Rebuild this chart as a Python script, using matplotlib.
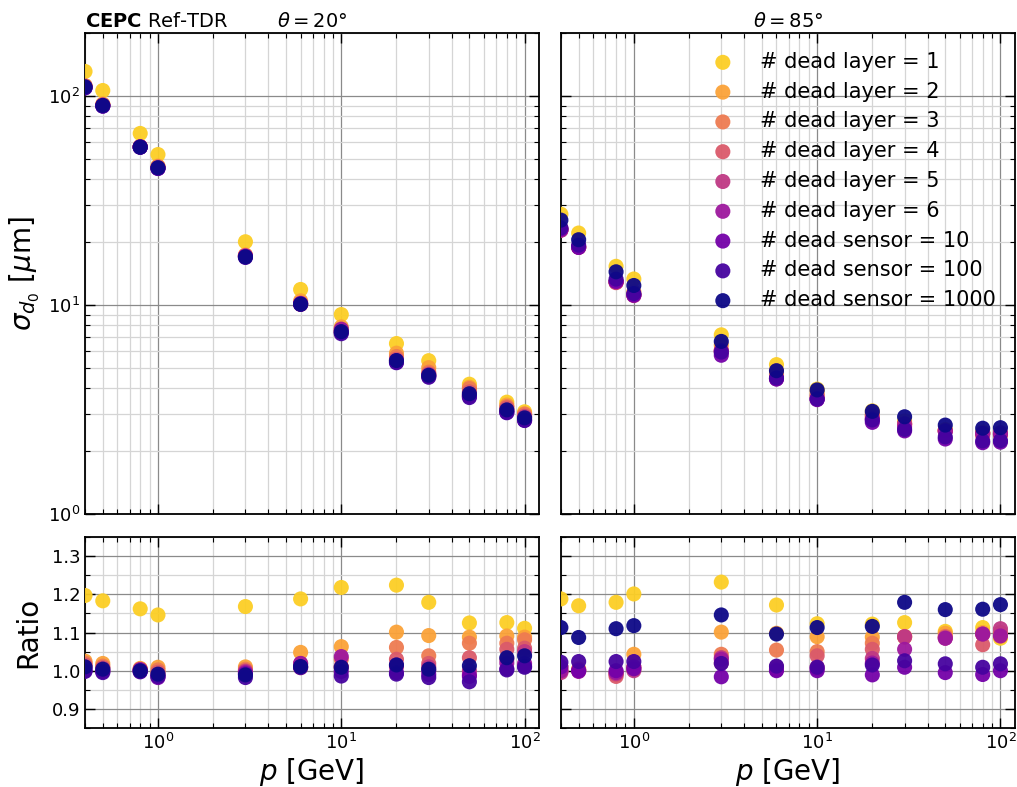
import numpy as np
import matplotlib
matplotlib.use("Agg")
import matplotlib.pyplot as plt

# momentum points [GeV]
p_vals = [0.4, 0.5, 0.8, 1, 3, 6, 10, 20, 30, 50, 80, 100]

labels = ["# dead layer = 1", "# dead layer = 2", "# dead layer = 3",
          "# dead layer = 4", "# dead layer = 5", "# dead layer = 6",
          "# dead sensor = 10", "# dead sensor = 100", "# dead sensor = 1000"]

# nominal resolution (no dead channels), used as ratio denominator [um]
base_20 = [109.5, 89.8, 57.0, 45.8, 17.2, 10.0, 7.4, 5.35, 4.6, 3.72, 3.05, 2.78]
base_85 = [22.9, 18.9, 13.0, 11.1, 5.85, 4.43, 3.53, 2.78, 2.48, 2.30, 2.22, 2.21]

# ratio to nominal, theta = 20 deg
ratio_20_layer1 = [1.197, 1.183, 1.162, 1.146, 1.168, 1.188, 1.218, 1.224, 1.179, 1.125, 1.126, 1.111]
ratio_20_layer2 = [1.025, 1.019, 1.006, 1.009, 1.010, 1.048, 1.063, 1.101, 1.092, 1.088, 1.091, 1.088]
ratio_20_layer3 = [1.020, 1.012, 1.004, 1.002, 1.004, 1.008, 1.030, 1.061, 1.039, 1.072, 1.072, 1.081]
ratio_20_layer4 = [1.015, 1.008, 1.002, 0.996, 1.000, 1.010, 1.010, 1.030, 1.019, 1.034, 1.056, 1.059]
ratio_20_layer5 = [1.010, 1.005, 1.000, 0.990, 0.998, 1.019, 1.010, 1.010, 1.010, 1.000, 1.030, 1.050]
ratio_20_layer6 = [1.005, 1.000, 1.003, 0.985, 0.995, 1.019, 1.037, 1.015, 1.000, 0.990, 1.020, 1.019]
ratio_20_sens10 = [1.000, 0.998, 0.998, 0.982, 0.992, 1.010, 0.998, 0.995, 0.990, 0.985, 1.005, 1.012]
ratio_20_sens100 = [0.998, 0.995, 0.997, 0.985, 0.982, 1.008, 0.986, 0.991, 0.982, 0.971, 1.002, 1.009]
ratio_20_sens1000 = [1.010, 1.004, 1.000, 0.991, 0.989, 1.011, 1.009, 1.015, 1.004, 1.013, 1.034, 1.039]

# ratio to nominal, theta = 85 deg
ratio_85_layer1 = [1.188, 1.170, 1.179, 1.201, 1.232, 1.172, 1.123, 1.122, 1.126, 1.103, 1.113, 1.085]
ratio_85_layer2 = [1.010, 1.005, 0.995, 1.043, 1.101, 1.098, 1.089, 1.088, 1.090, 1.098, 1.100, 1.090]
ratio_85_layer3 = [1.002, 1.000, 0.990, 1.010, 1.043, 1.054, 1.050, 1.072, 1.088, 1.090, 1.095, 1.095]
ratio_85_layer4 = [0.998, 1.000, 0.985, 1.005, 1.020, 1.010, 1.039, 1.056, 1.089, 1.088, 1.068, 1.100]
ratio_85_layer5 = [0.995, 1.002, 0.992, 1.000, 1.034, 1.005, 1.010, 1.032, 1.089, 1.085, 1.096, 1.110]
ratio_85_layer6 = [1.000, 0.998, 0.995, 1.010, 1.030, 1.002, 1.005, 1.020, 1.056, 1.085, 1.096, 1.091]
ratio_85_sens10 = [1.010, 1.000, 1.000, 1.005, 0.984, 1.000, 1.000, 0.989, 1.009, 0.995, 0.990, 1.000]
ratio_85_sens100 = [1.022, 1.024, 1.024, 1.024, 1.019, 1.012, 1.009, 1.015, 1.026, 1.018, 1.009, 1.018]
ratio_85_sens1000 = [1.113, 1.087, 1.110, 1.118, 1.146, 1.096, 1.113, 1.116, 1.179, 1.160, 1.161, 1.173]

ratios_20 = [ratio_20_layer1, ratio_20_layer2, ratio_20_layer3, ratio_20_layer4,
             ratio_20_layer5, ratio_20_layer6, ratio_20_sens10, ratio_20_sens100,
             ratio_20_sens1000]
ratios_85 = [ratio_85_layer1, ratio_85_layer2, ratio_85_layer3, ratio_85_layer4,
             ratio_85_layer5, ratio_85_layer6, ratio_85_sens10, ratio_85_sens100,
             ratio_85_sens1000]

colors = plt.cm.plasma(np.linspace(0.9, 0.0, len(labels)))

fig = plt.figure(figsize=(10.17, 7.87), dpi=100)
gs = fig.add_gridspec(2, 2, height_ratios=[2.52, 1], left=0.0836, right=0.998,
                      top=0.958, bottom=0.075, wspace=0.048, hspace=0.068)
ax_t20 = fig.add_subplot(gs[0, 0])
ax_t85 = fig.add_subplot(gs[0, 1], sharey=ax_t20)
ax_r20 = fig.add_subplot(gs[1, 0], sharex=ax_t20)
ax_r85 = fig.add_subplot(gs[1, 1], sharex=ax_t85, sharey=ax_r20)


def draw_panel(ax_top, ax_rat, base, ratios, with_legend):
    base = np.array(base)
    for lab, col, rat in zip(labels, colors, ratios):
        rat = np.array(rat)
        ax_top.scatter(p_vals, base * rat, s=118, color=col, alpha=0.95,
                       edgecolors="none", label=lab, zorder=3)
        ax_rat.scatter(p_vals, rat, s=118, color=col, alpha=0.95,
                       edgecolors="none", zorder=3)
    if with_legend:
        ax_top.legend(loc="upper right", frameon=False, fontsize=15,
                      labelspacing=0.47)


draw_panel(ax_t20, ax_r20, base_20, ratios_20, False)
draw_panel(ax_t85, ax_r85, base_85, ratios_85, True)

for ax in [ax_t20, ax_t85, ax_r20, ax_r85]:
    ax.set_xscale("log")
    ax.set_xlim(0.4, 120)
    ax.grid(True, which="major", color="#8a8a8a", linewidth=0.9)
    ax.grid(True, which="minor", color="#d5d5d5", linewidth=0.9)
    ax.set_axisbelow(True)
    ax.tick_params(which="both", direction="in", top=True, right=True, labelsize=13)
    ax.tick_params(which="major", length=7, width=1)
    ax.tick_params(which="minor", length=3.5, width=0.8)
    for sp in ax.spines.values():
        sp.set_linewidth(1.3)

for ax in [ax_t20, ax_t85]:
    ax.set_yscale("log")
    ax.set_ylim(1, 200)
    ax.tick_params(labelbottom=False)

ax_r20.set_ylim(0.85, 1.35)
ax_r20.set_yticks([0.9, 1.0, 1.1, 1.2, 1.3])
ax_r20.set_yticks(np.arange(0.85, 1.35, 0.05), minor=True)

ax_t85.tick_params(labelleft=False)
ax_r85.tick_params(labelleft=False)

ax_t20.set_ylabel(r"$\sigma_{d_0}$ [$\mu$m]", fontsize=20)
ax_r20.set_ylabel("Ratio", fontsize=20)
ax_r20.set_xlabel(r"$p$ [GeV]", fontsize=20, labelpad=2)
ax_r85.set_xlabel(r"$p$ [GeV]", fontsize=20, labelpad=2)
fig.align_ylabels([ax_t20, ax_r20])

ax_t20.set_title(r"$\bf{CEPC}$ Ref-TDR", loc="left", fontsize=14, pad=4)
ax_t20.set_title(r"$\theta = 20°$", fontsize=14, pad=4)
ax_t85.set_title(r"$\theta = 85°$", fontsize=14, pad=4)

fig.savefig("out.png", dpi=100)
